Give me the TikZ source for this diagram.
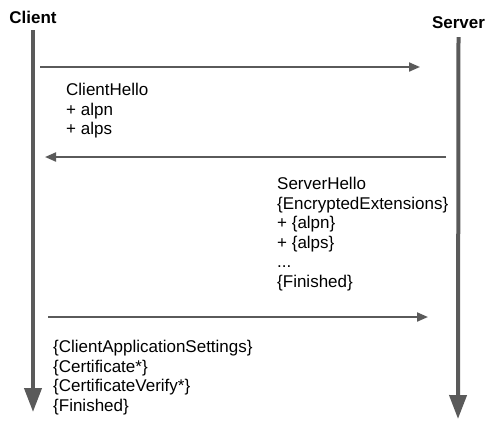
\documentclass[tikz,border=0pt]{standalone}
\usepackage{fontspec}
\setmainfont{Liberation Sans}
\usetikzlibrary{arrows.meta}
\definecolor{linegray}{HTML}{5A5A5A}
\begin{document}
\begin{tikzpicture}[x=1pt,y=-1pt,
  lifeline/.style={draw=linegray, line width=4pt, -{Triangle[length=24pt,width=17pt]}},
  msg/.style={draw=linegray, line width=2pt, -{Triangle[length=11pt,width=9pt]}},
  actor/.style={font=\fontsize{17}{20}\selectfont\bfseries, inner sep=0pt},
  msgtext/.style={font=\fontsize{17}{19.5}\selectfont, align=left, anchor=north west, inner sep=0pt}]
\useasboundingbox (0,0) rectangle (500,424);
\node[actor] (client) at (33,17) {Client};
\node[actor] (server) at (458.5,23) {Server};
\coordinate (cend) at (33,412);
\coordinate (send) at (458,419);
\draw[lifeline] (client.south) ++(0,7) -- (cend);
\draw[lifeline] (server.south) ++(0,8) -- (send);
\coordinate (m1s) at (40,67);
\coordinate (m1e) at (420,67);
\coordinate (m2s) at (446,157);
\coordinate (m2e) at (45,157);
\coordinate (m3s) at (48,317);
\coordinate (m3e) at (428,317);
\draw[msg] (m1s) -- (m1e);
\draw[msg] (m2s) -- (m2e);
\draw[msg] (m3s) -- (m3e);
\node[msgtext] (t1) at (66,83) {ClientHello\\+ alpn\\+ alps};
\node[msgtext] (t2) at (277,177) {ServerHello\\\{EncryptedExtensions\}\\+ \{alpn\}\\+ \{alps\}\\...\\\{Finished\}};
\node[msgtext] (t3) at (53,340) {\{ClientApplicationSettings\}\\\{Certificate*\}\\\{CertificateVerify*\}\\\{Finished\}};
\end{tikzpicture}
\end{document}
